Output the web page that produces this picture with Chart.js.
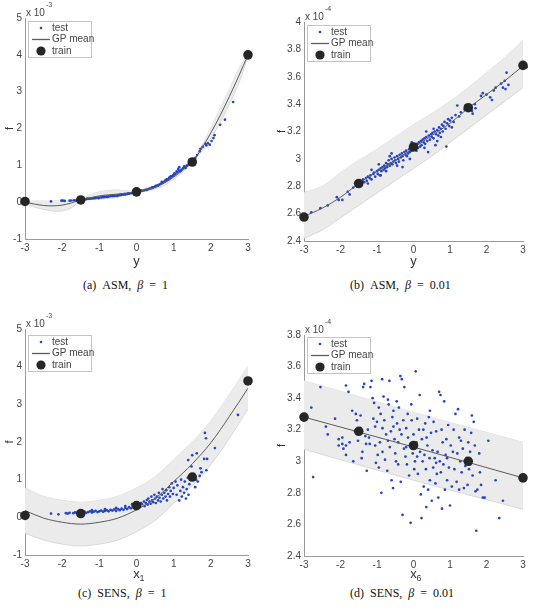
<!DOCTYPE html>
<html>
<head>
<meta charset="utf-8">
<script src="https://cdn.jsdelivr.net/npm/chart.js@4.4.1/dist/chart.umd.min.js"></script>
<style>
  body { margin: 0; background: #fff; width: 534px; height: 607px; position: relative; overflow: hidden; }
  canvas { position: absolute; }
  .cap { position: absolute; font-family: "Liberation Serif", "DejaVu Serif", serif; font-size: 12px; color: #111; white-space: nowrap; word-spacing: 3px; line-height: 14px; }
</style>
</head>
<body>
<canvas id="chA" width="267" height="269" style="left:0;top:0"></canvas>
<canvas id="chB" width="267" height="269" style="left:267px;top:0"></canvas>
<canvas id="chC" width="267" height="282" style="left:0;top:300px"></canvas>
<canvas id="chD" width="267" height="282" style="left:267px;top:300px"></canvas>

<div class="cap" style="left:83px;top:278px">(a)&nbsp;ASM, <i>β</i> = 1</div>
<div class="cap" style="left:350px;top:278px">(b)&nbsp;ASM, <i>β</i> = 0.01</div>
<div class="cap" style="left:78px;top:586px">(c)&nbsp;SENS, <i>β</i> = 1</div>
<div class="cap" style="left:350px;top:586px">(d)&nbsp;SENS, <i>β</i> = 0.01</div>

<script>
// ---- data ----
const xTicks = [-3, -2, -1, 0, 1, 2, 3];
const trainX = [-3, -1.5, 0, 1.5, 3];

// (a) ASM, beta = 1   (f in 1e-3)
const gridA = [-3, -2.75, -2.5, -2.25, -2, -1.75, -1.5, -1.25, -1, -0.75, -0.5, -0.25, 0, 0.25, 0.5, 0.75, 1, 1.25, 1.5, 1.75, 2, 2.25, 2.5, 2.75, 3];
const meanA  = [0.0, -0.05, -0.09, -0.10, -0.08, -0.02, 0.06, 0.12, 0.17, 0.20, 0.22, 0.25, 0.28, 0.33, 0.40, 0.52, 0.68, 0.87, 1.09, 1.45, 1.88, 2.35, 2.87, 3.42, 4.0];
const upperA = [0.02, 0.03, 0.03, 0.03, 0.03, 0.04, 0.08, 0.20, 0.28, 0.32, 0.33, 0.31, 0.30, 0.37, 0.45, 0.58, 0.74, 0.92, 1.11, 1.52, 2.02, 2.55, 3.07, 3.62, 4.02];
const lowerA = [-0.02, -0.13, -0.20, -0.24, -0.24, -0.15, 0.04, 0.07, 0.08, 0.10, 0.14, 0.21, 0.26, 0.30, 0.35, 0.46, 0.62, 0.82, 1.07, 1.38, 1.74, 2.15, 2.67, 3.22, 3.98];
const trainA = [0.02, 0.06, 0.28, 1.09, 4.0];
const testA = [
  [-2.3,0.02],[-2.02,0.04],[-1.98,0.04],[-1.93,0.035],[-1.8,0.04],[-1.75,0.045],[-1.68,0.05],[-1.62,0.05],[-1.55,0.06],
  [-1.45,0.07],[-1.4,0.075],[-1.35,0.08],[-1.3,0.09],[-1.25,0.095],[-1.2,0.10],[-1.15,0.105],[-1.1,0.11],[-1.05,0.12],
  [-1.0,0.125],[-0.95,0.13],[-0.9,0.135],[-0.85,0.14],[-0.8,0.15],[-0.75,0.155],[-0.7,0.16],[-0.65,0.165],[-0.6,0.17],
  [-0.55,0.18],[-0.5,0.185],[-0.45,0.19],[-0.4,0.2],[-0.35,0.205],[-0.3,0.21],[-0.25,0.22],[-0.2,0.23],[-0.15,0.24],
  [-0.1,0.25],[-0.05,0.265],[-1.32,0.1],[-1.12,0.12],[-0.88,0.15],[-0.62,0.18],[-0.42,0.21],[-0.22,0.24],[-0.78,0.14],
  [-1.02,0.11],[-0.52,0.17],[-0.33,0.22],
  [0.05,0.29],[0.1,0.3],[0.15,0.31],[0.2,0.32],[0.25,0.335],[0.3,0.35],[0.35,0.365],[0.4,0.38],[0.45,0.40],[0.5,0.42],
  [0.55,0.44],[0.6,0.47],[0.65,0.50],[0.7,0.53],[0.75,0.56],[0.8,0.59],[0.85,0.62],[0.9,0.66],[0.95,0.70],[1.0,0.74],
  [1.05,0.77],[1.1,0.81],[1.15,0.85],[1.2,0.88],[1.25,0.92],[1.3,0.96],[1.35,0.99],[1.4,1.02],[1.45,1.05],
  [0.12,0.32],[0.28,0.33],[0.42,0.40],[0.58,0.45],[0.68,0.55],[0.82,0.62],[0.92,0.70],[1.02,0.78],[1.08,0.84],[1.12,0.9],
  [1.18,0.84],[1.28,0.97],[1.32,0.93],[0.52,0.44],[0.78,0.6],[0.88,0.67],[0.98,0.72],[1.15,0.95],
  [1.58,1.2],[1.63,1.28],[1.7,1.38],[1.72,1.45],[1.78,1.5],[1.85,1.58],[1.88,1.54],[1.92,1.6],[1.97,1.56],[2.02,1.66],
  [2.07,1.74],[2.1,1.82],[2.25,2.1],[2.38,2.24],[2.6,2.72]
];

// (b) ASM, beta = 0.01   (f in 1e-4)
const gridB  = [-3, -2.5, -2, -1.5, -1, -0.5, 0, 0.5, 1, 1.5, 2, 2.5, 3];
const meanB  = [2.58, 2.64, 2.72, 2.82, 2.91, 2.99, 3.08, 3.17, 3.26, 3.37, 3.47, 3.57, 3.68];
const upperB = [2.755, 2.80, 2.90, 2.99, 3.07, 3.16, 3.25, 3.33, 3.42, 3.52, 3.63, 3.74, 3.87];
const lowerB = [2.42, 2.48, 2.57, 2.66, 2.75, 2.84, 2.93, 3.02, 3.12, 3.22, 3.32, 3.42, 3.52];
const trainB = [2.575, 2.82, 3.087, 3.374, 3.683];
const testB = [
  [-2.8,2.61],[-2.55,2.64],[-2.35,2.66],[-2.1,2.72],[-2.05,2.70],[-1.95,2.70],[-1.8,2.76],[-1.75,2.74],[-1.65,2.79],
  [-1.6,2.82],[-1.55,2.80],[-1.45,2.84],[-1.42,2.81],[-1.38,2.85],[-1.35,2.83],[-1.3,2.86],[-1.28,2.84],[-1.25,2.87],
  [-1.2,2.86],[-1.18,2.88],[-1.15,2.85],[-1.1,2.89],[-1.08,2.9],[-1.05,2.87],[-1.0,2.91],[-0.98,2.89],[-0.95,2.92],
  [-0.92,2.88],[-0.9,2.93],[-0.88,2.91],[-0.85,2.94],[-0.82,2.92],[-0.8,2.95],[-0.78,2.93],[-0.75,2.97],[-0.72,2.94],
  [-0.7,2.96],[-0.68,2.99],[-0.65,2.95],[-0.62,2.97],[-0.6,3.0],[-0.58,2.96],[-0.55,2.98],[-0.52,3.01],[-0.5,2.99],
  [-0.48,2.97],[-0.45,3.02],[-0.42,3.0],[-0.4,2.98],[-0.38,3.03],[-0.35,3.01],[-0.32,3.04],[-0.3,3.02],[-0.28,2.99],
  [-0.25,3.05],[-0.22,3.03],[-0.2,3.06],[-0.18,3.02],[-0.15,3.04],[-0.12,3.07],[-0.1,3.05],[-0.08,3.08],[-0.05,3.06],
  [-0.02,3.09],[0.02,3.07],[0.05,3.1],[0.08,3.06],[0.1,3.11],[0.12,3.08],[0.15,3.12],[0.18,3.09],[0.2,3.13],[0.22,3.1],
  [0.25,3.14],[0.28,3.12],[0.3,3.15],[0.32,3.11],[0.35,3.16],[0.38,3.13],[0.4,3.05],[0.42,3.17],[0.45,3.14],[0.48,3.18],
  [0.5,3.16],[0.52,3.19],[0.55,3.15],[0.58,3.2],[0.6,3.1],[0.62,3.18],[0.65,3.21],[0.68,3.17],[0.7,3.23],[0.72,3.19],
  [0.75,3.22],[0.78,3.25],[0.8,3.2],[0.82,3.24],[0.85,3.27],[0.88,3.22],[0.9,3.09],[0.92,3.26],[0.95,3.29],[0.98,3.24],
  [1.0,3.28],[1.05,3.3],[1.1,3.27],[1.15,3.32],[1.2,3.39],[1.25,3.31],[1.3,3.34],
  [-0.9,2.88],[-0.3,2.94],[-0.6,3.04],[-1.15,2.92],[-0.1,3.0],[-0.75,2.91],[0.3,3.08],[0.65,3.13],
  [-1.25,2.82],[-0.95,2.96],[-0.45,2.95],[-0.05,3.12],[0.35,3.2],[0.55,3.22],[0.75,3.16],[1.05,3.23],[-0.65,3.02],
  [1.4,3.36],[1.55,3.38],[1.6,3.35],[1.62,3.33],[1.68,3.4],[1.7,3.37],[1.85,3.46],[1.9,3.48],[2.0,3.47],[2.1,3.45],
  [2.15,3.43],[2.2,3.5],[2.25,3.52],[2.4,3.55],[2.45,3.52],[2.5,3.57],[2.52,3.51],[2.55,3.63],[2.6,3.54],[3.1,3.67]
];

// (c) SENS, beta = 1   (f in 1e-3)
const gridC  = [-3, -2.5, -2, -1.5, -1, -0.5, 0, 0.5, 1, 1.5, 2, 2.5, 3];
const meanC  = [0.18, -0.02, -0.13, -0.18, -0.13, -0.02, 0.2, 0.5, 0.95, 1.42, 1.98, 2.68, 3.43];
const upperC = [0.78, 0.56, 0.45, 0.40, 0.45, 0.56, 0.78, 1.08, 1.53, 2.0, 2.56, 3.26, 4.01];
const lowerC = [-0.42, -0.6, -0.71, -0.76, -0.71, -0.6, -0.38, -0.08, 0.37, 0.84, 1.4, 2.1, 2.88];
const trainC = [0.05, 0.1, 0.31, 1.07, 3.62];
const testC = [
  [-2.3,0.1],[-2.1,0.08],[-1.9,0.11],[-1.85,0.1],[-1.8,0.12],[-1.7,0.11],[-1.65,0.13],[-1.6,0.12],
  [-1.45,0.13],[-1.4,0.15],[-1.35,0.12],[-1.3,0.14],[-1.25,0.16],[-1.2,0.13],[-1.15,0.15],[-1.1,0.17],[-1.05,0.14],
  [-1.0,0.16],[-0.95,0.18],[-0.9,0.15],[-0.85,0.17],[-0.8,0.19],[-0.75,0.16],[-0.7,0.2],[-0.65,0.18],[-0.6,0.21],
  [-0.55,0.17],[-0.5,0.22],[-0.45,0.19],[-0.4,0.23],[-0.35,0.2],[-0.3,0.25],[-0.25,0.22],[-0.2,0.27],[-0.15,0.24],
  [-0.1,0.3],[-0.05,0.26],[-0.12,0.35],[-0.3,0.3],[-0.55,0.25],[-0.85,0.22],[-1.2,0.19],
  [0.05,0.32],[0.1,0.28],[0.12,0.38],[0.15,0.35],[0.2,0.42],[0.22,0.3],[0.25,0.38],[0.28,0.46],[0.3,0.34],[0.32,0.5],
  [0.35,0.42],[0.38,0.36],[0.4,0.55],[0.42,0.45],[0.45,0.4],[0.48,0.6],[0.5,0.5],[0.52,0.38],[0.55,0.55],[0.58,0.45],
  [0.6,0.65],[0.62,0.52],[0.65,0.42],[0.68,0.6],[0.7,0.75],[0.72,0.5],[0.75,0.65],[0.78,0.55],[0.8,0.72],[0.82,0.45],
  [0.85,0.62],[0.88,0.8],[0.9,0.55],[0.92,0.7],[0.95,0.9],[0.98,0.62],[1.0,0.78],
  [1.05,0.95],[1.08,0.6],[1.1,0.85],[1.15,0.45],[1.18,0.7],[1.2,1.0],[1.22,0.55],[1.25,0.8],[1.28,0.65],[1.3,0.95],
  [1.33,0.5],[1.35,0.75],[1.38,1.05],[1.4,0.6],[1.42,0.88],[1.39,1.52],[1.48,1.35],[1.5,1.65],[1.55,1.15],[1.58,0.8],
  [1.6,1.0],[1.62,1.7],[1.65,0.95],[1.7,1.1],[1.72,1.3],[1.75,1.2],[1.84,2.24],[1.82,1.55],[1.87,2.1],[1.88,1.25],
  [1.9,1.55],[2.11,1.84],[2.73,2.72]
];

// (d) SENS, beta = 0.01   (f in 1e-4)
const gridD  = [-3, 0, 3];
const meanD  = [3.28, 3.09, 2.895];
const upperD = [3.51, 3.31, 3.12];
const lowerD = [3.076, 2.88, 2.696];
const trainD = [3.28, 3.19, 3.10, 3.0, 2.895];
const testD = [
  [-2.75,2.90],[-2.8,3.34],[-2.55,3.47],[-2.4,3.22],[-2.35,3.17],[-2.15,3.27],
  [-2.05,3.10],[-2.05,3.14],[-1.95,3.11],[-1.92,3.08],[-1.95,3.15],[-1.85,3.04],[-1.85,3.10],[-1.85,3.48],[-1.78,3.44],
  [-1.68,3.32],[-1.65,3.00],[-1.58,3.30],[-1.55,3.26],[-1.52,3.13],[-1.45,3.21],[-1.45,3.29],[-1.4,3.06],[-1.38,3.47],
  [-1.35,3.49],[-1.32,3.16],[-1.3,3.11],[-1.28,2.94],[-1.25,3.20],[-1.22,3.15],[-1.2,3.11],[-1.18,3.47],[-1.15,3.51],
  [-1.12,3.40],[-1.1,3.27],[-1.08,3.37],[-1.05,3.22],[-1.03,2.99],[-1.0,3.25],[-0.98,3.04],[-0.95,2.96],[-0.95,3.34],
  [-0.92,3.12],[-0.9,3.30],[-0.88,2.80],[-0.86,3.52],[-0.85,3.21],[-0.82,3.41],[-0.8,3.26],[-0.78,3.01],[-0.75,3.17],
  [-0.72,2.94],[-0.7,3.39],[-0.68,3.36],[-0.66,3.51],[-0.65,3.09],[-0.62,3.19],[-0.6,2.88],[-0.58,3.28],[-0.56,2.83],
  [-0.55,3.22],[-0.52,3.14],[-0.5,3.05],[-0.48,3.00],[-0.46,3.38],[-0.45,3.24],[-0.42,3.12],[-0.4,3.34],[-0.38,3.20],
  [-0.36,3.54],[-0.35,2.87],[-0.33,3.17],[-0.32,3.52],[-0.3,2.66],[-0.28,3.26],[-0.26,3.08],[-0.25,3.47],[-0.22,3.03],
  [-0.2,3.21],[-0.18,2.98],[-0.16,3.30],[-0.15,3.15],[-0.12,2.91],[-0.1,3.10],[-0.08,2.61],[-0.06,3.36],[-0.05,3.26],
  [-0.02,3.05],[0.0,3.17],[0.02,2.95],[0.04,3.00],[0.06,3.57],[0.08,3.12],[0.1,3.03],[0.12,2.92],[0.15,3.20],[0.17,3.42],
  [0.18,3.06],[0.2,2.79],[0.22,2.64],[0.23,3.14],[0.25,3.00],[0.27,3.20],[0.28,2.84],[0.3,3.04],[0.32,3.24],[0.34,2.95],
  [0.35,2.71],[0.38,3.10],[0.4,2.82],[0.42,3.28],[0.44,3.02],[0.45,2.88],[0.48,3.18],[0.5,2.75],[0.52,3.07],[0.54,2.96],
  [0.55,3.25],[0.58,3.02],[0.6,2.86],[0.62,3.19],[0.64,2.92],[0.66,3.06],[0.68,2.77],[0.7,3.44],[0.72,3.00],[0.74,3.42],
  [0.75,2.93],[0.77,3.20],[0.78,2.70],[0.8,3.12],[0.82,2.98],[0.84,3.38],[0.86,2.82],[0.88,3.04],[0.9,3.14],[0.92,2.88],
  [0.95,3.23],[0.97,2.96],[1.0,2.72],[1.02,3.10],[1.05,2.84],[1.08,3.06],[1.1,3.20],[1.12,2.95],[1.15,3.30],[1.18,2.87],
  [1.2,3.05],[1.22,3.33],[1.25,2.82],[1.28,3.00],[1.3,3.13],[1.32,2.93],[1.35,3.08],[1.38,2.83],[1.4,3.20],[1.42,2.97],
  [1.45,3.02],[1.48,2.85],[1.5,3.12],[1.52,2.95],[1.55,2.98],[1.58,3.18],[1.6,3.29],[1.62,2.91],[1.65,3.25],[1.68,3.10],
  [1.7,2.81],[1.72,2.56],[1.75,2.82],[1.8,3.05],[1.82,2.93],[1.85,2.85],[1.9,2.77],[1.95,2.77],[2.05,3.13],[2.25,2.88],
  [2.35,2.64],[2.45,2.75],
  [-1.75,3.12],[-1.6,3.19],[-1.42,3.02],[-1.05,3.10],[-0.7,3.13],[-0.42,2.98],[-0.2,3.09],[0.1,3.27],[0.36,3.15],
  [0.62,2.99],[0.92,3.02],[1.25,3.15],[1.55,3.06],[-0.85,3.06],[0.45,3.32],[-0.55,3.32]
];

// ---- styles ----
const blue = '#2445c4';
const trainCol = '#262626';
const meanCol = '#5c5c5c';
const bandFill = '#ebebeb';
const bandEdge = '#d2d2d2';
const axisCol = '#9a9a9a';
const textCol = '#444';
const sans = '"Liberation Sans", Arial, sans-serif';

const toXY = (xs, ys) => xs.map((x, i) => ({ x: x, y: ys[i] }));

// exponent label above the y axis, subscript of the x title, boxed legend inside the plot
const extras = {
  id: 'extras',
  afterDraw(chart, args, o) {
    const ctx = chart.ctx;
    const a = chart.chartArea;
    ctx.save();
    ctx.fillStyle = textCol;
    ctx.textBaseline = 'middle';
    ctx.font = '10px ' + sans;
    ctx.fillText('x 10', a.left + 1, a.top - 5);
    ctx.font = '7px ' + sans;
    ctx.fillText(o.exp, a.left + 21, a.top - 13);

    if (o.sub) {
      const xs = chart.scales.x;
      ctx.fillStyle = '#333';
      ctx.font = '9px ' + sans;
      ctx.fillText(o.sub, (a.left + a.right) / 2 + 3, xs.bottom - 3);
    }

    // legend
    const bx = a.left + 3, by = a.top + o.legDy, bw = 63, bh = 36;
    ctx.fillStyle = '#fff';
    ctx.fillRect(bx, by, bw, bh);
    ctx.strokeStyle = '#c4c4c4';
    ctx.lineWidth = 1;
    ctx.strokeRect(bx + 0.5, by + 0.5, bw, bh);
    ctx.font = '10px ' + sans;
    ctx.fillStyle = textCol;
    ctx.fillText('test', bx + 24, by + 7);
    ctx.fillText('GP mean', bx + 24, by + 18.5);
    ctx.fillText('train', bx + 24, by + 30);
    ctx.fillStyle = blue;
    ctx.beginPath(); ctx.arc(bx + 13, by + 7, 1.3, 0, Math.PI * 2); ctx.fill();
    ctx.strokeStyle = meanCol;
    ctx.lineWidth = 1.3;
    ctx.beginPath(); ctx.moveTo(bx + 4, by + 18.5); ctx.lineTo(bx + 22, by + 18.5); ctx.stroke();
    ctx.fillStyle = trainCol;
    ctx.beginPath(); ctx.arc(bx + 13, by + 30, 4.6, 0, Math.PI * 2); ctx.fill();
    ctx.restore();
  }
};

function gpChart(id, o) {
  return new Chart(document.getElementById(id), {
    type: 'scatter',
    data: {
      datasets: [
        { label: 'upper', data: toXY(o.grid, o.upper), showLine: true, pointRadius: 0, borderColor: bandEdge,
          borderWidth: 0.8, fill: false, tension: 0.35, order: 5 },
        { label: 'lower', data: toXY(o.grid, o.lower), showLine: true, pointRadius: 0, borderColor: bandEdge,
          borderWidth: 0.8, fill: '-1', backgroundColor: bandFill, tension: 0.35, order: 4 },
        { label: 'GP mean', data: toXY(o.grid, o.mean), showLine: true, pointRadius: 0, borderColor: meanCol,
          borderWidth: 1, tension: 0.35, order: 2 },
        { label: 'test', data: o.test.map(p => ({ x: p[0], y: p[1] })), pointRadius: 1.35, borderWidth: 0,
          backgroundColor: blue, clip: false, order: 3 },
        { label: 'train', data: toXY(trainX, o.train), pointRadius: 4.8, borderWidth: 0,
          backgroundColor: trainCol, clip: false, order: 1 }
      ]
    },
    options: {
      responsive: false,
      animation: false,
      events: [],
      layout: { padding: { left: 0, top: o.top, right: o.right, bottom: 0 } },
      plugins: {
        legend: { display: false },
        tooltip: { enabled: false },
        extras: { exp: o.exp, legDy: o.legDy, sub: o.sub }
      },
      scales: {
        x: {
          type: 'linear', min: -3, max: 3,
          afterBuildTicks: s => { s.ticks = xTicks.map(v => ({ value: v })); },
          ticks: { color: textCol, font: { family: sans, size: 10 }, padding: 3 },
          grid: { drawOnChartArea: false, drawTicks: false },
          border: { color: axisCol, width: 1 },
          title: { display: true, text: o.xTitle, color: '#333', font: { family: sans, size: 13 }, padding: 0 },
          afterFit: s => { s.height = o.xh; }
        },
        y: {
          type: 'linear', min: o.yTicks[0], max: o.yTicks[o.yTicks.length - 1],
          afterBuildTicks: s => { s.ticks = o.yTicks.map(v => ({ value: v })); },
          ticks: { color: textCol, font: { family: sans, size: 10 }, padding: 3,
                   callback: v => String(+v.toFixed(1)) },
          grid: { drawOnChartArea: false, drawTicks: false },
          border: { color: axisCol, width: 1 },
          title: { display: true, text: 'f', color: '#333', font: { family: sans, size: 11 }, padding: { top: o.fPad, bottom: 0 } },
          afterFit: s => { s.width = o.yw; }
        }
      }
    },
    plugins: [extras]
  });
}

gpChart('chA', { grid: gridA, mean: meanA, upper: upperA, lower: lowerA, train: trainA, test: testA,
  yTicks: [-1, 0, 1, 2, 3, 4, 5], exp: '-3', xTitle: 'y', top: 18, right: 19, xh: 30, yw: 25, fPad: 3, legDy: 3 });
gpChart('chB', { grid: gridB, mean: meanB, upper: upperB, lower: lowerB, train: trainB, test: testB,
  yTicks: [2.4, 2.6, 2.8, 3, 3.2, 3.4, 3.6, 3.8, 4], exp: '-4', xTitle: 'y', top: 22, right: 11, xh: 28, yw: 37, fPad: 8, legDy: 3 });
gpChart('chC', { grid: gridC, mean: meanC, upper: upperC, lower: lowerC, train: trainC, test: testC,
  yTicks: [-1, 0, 1, 2, 3, 4, 5], exp: '-3', xTitle: 'x', sub: '1', top: 29, right: 19, xh: 27, yw: 25, fPad: 3, legDy: 6 });
gpChart('chD', { grid: gridD, mean: meanD, upper: upperD, lower: lowerD, train: trainD, test: testD,
  yTicks: [2.4, 2.6, 2.8, 3, 3.2, 3.4, 3.6, 3.8], exp: '-4', xTitle: 'x', sub: '6', top: 35, right: 11, xh: 26, yw: 37, fPad: 8, legDy: 2 });
</script>
</body>
</html>
